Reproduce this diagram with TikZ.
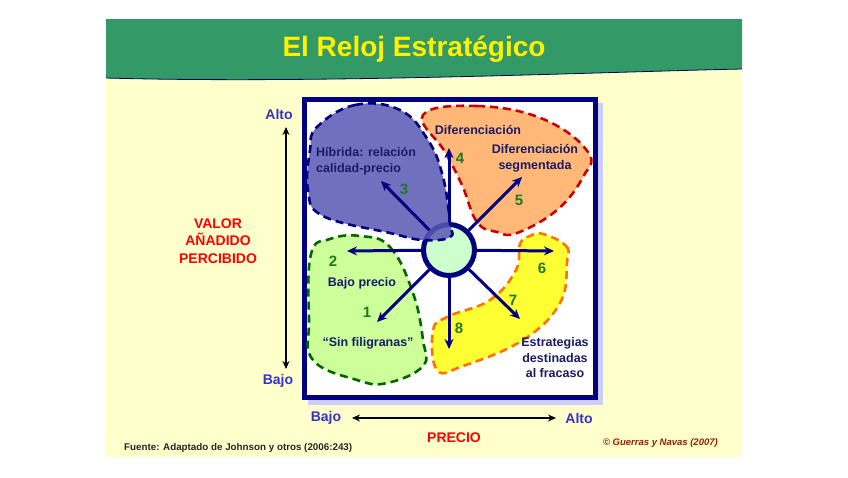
\documentclass[tikz,border=0pt]{standalone}
\usepackage{fontspec}
\setmainfont{Liberation Sans}
\usetikzlibrary{arrows.meta}
\definecolor{band}{RGB}{51,153,102}
\definecolor{cream}{RGB}{255,255,204}
\definecolor{navy}{RGB}{0,0,128}
\definecolor{navytxt}{RGB}{26,26,102}
\definecolor{axisblue}{RGB}{51,51,204}
\definecolor{numgreen}{RGB}{30,120,30}
\definecolor{shadowc}{RGB}{204,204,255}
\definecolor{bluefill}{RGB}{88,88,180}
\definecolor{orangefill}{RGB}{255,184,120}
\definecolor{greenfill}{RGB}{204,255,153}
\definecolor{yellowfill}{RGB}{255,255,51}
\definecolor{copyc}{RGB}{153,30,0}
\begin{document}
\begin{tikzpicture}[x=1pt,y=-1pt,
  lbl/.style={font=\bfseries\fontsize{12.5}{15.5}\selectfont, text=navytxt, align=center, inner sep=0pt},
  num/.style={font=\bfseries\fontsize{15}{17}\selectfont, text=numgreen, inner sep=0pt},
  axlbl/.style={font=\bfseries\fontsize{14}{17}\selectfont, text=axisblue, inner sep=0pt},
  redlbl/.style={font=\bfseries\fontsize{14}{17.5}\selectfont, text=red, align=center, inner sep=0pt},
  blob/.style={line width=2.6pt, dash pattern=on 8pt off 5pt, smooth cycle, tension=0.7},
  clockarrow/.style={draw=navy, line width=3pt, -{Stealth[length=10pt,width=9pt]}},
  axisarrow/.style={draw=black, line width=1.6pt, {Stealth[length=8pt,width=7pt]}-{Stealth[length=8pt,width=7pt]}}]
\useasboundingbox (0,0) rectangle (848,477);
\fill[white] (0,0) rectangle (848,477);
% slide background
\fill[cream] (106,19) rectangle (742,457);
\fill[band] (106,19) -- (742,19) -- (742,69) .. controls (600,72) and (320,84) .. (106,78) -- cycle;
\draw[navy!70!black, line width=0.8pt] (742,69) .. controls (600,72) and (320,84) .. (106,78);
\node[font=\bfseries\fontsize{28}{32}\selectfont, text=yellow, anchor=base] (title) at (414,56) {El Reloj Estratégico};
% box
\fill[shadowc] (308,103) rectangle (603,405);
\draw[navy, line width=5pt, fill=white] (304.5,99.5) rectangle (595.5,397.5);
% blobs
\draw[blob, draw=red!80!black, fill=orangefill] plot coordinates {(423,115) (477,106) (543,119) (588,152) (583,177) (557,210) (517,233) (497,232) (477,222) (462,185) (445,152)};
\draw[blob, draw=green!40!black, fill=greenfill] plot coordinates {(360,236) (390,247) (413,293) (423,340) (423,366) (387,383) (357,380) (313,360) (309,320) (311,254) (330,239)};
\draw[blob, draw=orange!90!red, fill=yellowfill] plot coordinates {(543,234) (566,246) (567,262) (560,303) (523,340) (463,366) (437,370) (433,331) (447,317) (490,300) (516,270) (520,244) (530,236)};
% centre
\node[circle, draw=navy, line width=5pt, fill=green!20, minimum size=51pt, inner sep=0pt] (c) at (449,250) {};
\draw[blob, draw=navy, fill=bluefill, fill opacity=0.85] plot coordinates {(317,127) (355,105) (400,110) (428,140) (443,177) (450,223) (450,237) (423,240) (390,233) (323,216) (308,190) (310,150)};
% arrow ends
\coordinate (e1) at (377,322);
\coordinate (e2) at (347,251);
\coordinate (e3) at (381,181);
\coordinate (e4) at (449,148);
\coordinate (e5) at (522,177);
\coordinate (e6) at (554,251);
\coordinate (e7) at (520,319);
\coordinate (e8) at (449,349);
\foreach \e in {e1,e2,e3,e4,e5,e6,e7,e8} \draw[clockarrow] (c) -- (\e);
% labels
\node[lbl, align=left, anchor=west] (hib) at (316,161) {Híbrida: relación\\calidad-precio};
\node[lbl] (dif) at (478,130) {Diferenciación};
\node[lbl] (difseg) at (535,158) {Diferenciación\\segmentada};
\node[lbl] (bajo) at (362,283) {Bajo precio};
\node[lbl] (sinf) at (368,343) {“Sin filigranas”};
\node[lbl] (fracaso) at (555,358) {Estrategias\\destinadas\\al fracaso};
\node[num] (n1) at (367,312) {1};
\node[num] (n2) at (333,261) {2};
\node[num] (n3) at (404,189) {3};
\node[num] (n4) at (460,158) {4};
\node[num] (n5) at (519,200) {5};
\node[num] (n6) at (542,268) {6};
\node[num] (n7) at (513,300) {7};
\node[num] (n8) at (459,328) {8};
% vertical axis
\node[axlbl] (valto) at (279,114) {Alto};
\node[axlbl] (vbajo) at (278,381) {Bajo};
\coordinate (vtop) at (286,127);
\coordinate (vbot) at (286,369);
\draw[axisarrow] (vtop) -- (vbot);
\node[redlbl] (valor) at (218,241) {VALOR\\AÑADIDO\\PERCIBIDO};
% horizontal axis
\node[axlbl] (hbajo) at (326,418) {Bajo};
\node[axlbl] (halto) at (579,418) {Alto};
\coordinate (hl) at (352,418);
\coordinate (hr) at (556,418);
\draw[axisarrow] (hl) -- (hr);
\node[redlbl] (precio) at (454,438) {PRECIO};
\node[font=\bfseries\fontsize{9.8}{11}\selectfont, text=black!85, anchor=west, inner sep=0pt] (fuente) at (124,448) {Fuente: Adaptado de Johnson y otros (2006:243)};
\node[font=\bfseries\itshape\fontsize{9.5}{11}\selectfont, text=copyc, anchor=east, inner sep=0pt] (copy) at (718,443) {© Guerras y Navas (2007)};
\end{tikzpicture}
\end{document}
